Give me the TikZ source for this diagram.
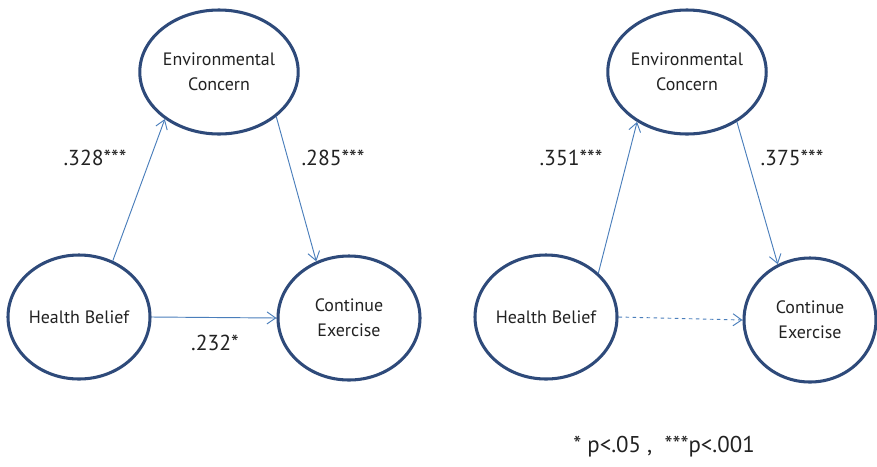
\documentclass[tikz,border=0pt]{standalone}
\usepackage{fontspec}
\setmainfont{PT Sans}
\usetikzlibrary{arrows.meta, shapes.geometric}
\definecolor{rimblue}{HTML}{2E4A7A}
\definecolor{lineblue}{HTML}{4A7EBB}
\definecolor{inkgray}{HTML}{222222}

\begin{document}
\begin{tikzpicture}[x=0.03cm, y=-0.03cm,
  latent/.style={ellipse, draw=rimblue, line width=2.6pt, fill=white, minimum width=4.26cm,
    minimum height=3.72cm, inner sep=0pt, align=center, text=inkgray,
    font=\fontsize{15.3}{21.5}\selectfont},
  effect/.style={draw=lineblue, line width=0.8pt, -{Straight Barb[length=2.6mm, width=3.6mm]}},
  nseffect/.style={effect, dashed},
  coef/.style={text=inkgray, font=\fontsize{18.5}{20}\selectfont},
  note/.style={text=inkgray, font=\fontsize{19.5}{22}\selectfont}
]
  \useasboundingbox (0,0) rectangle (877,466);
  % total model
  \node[latent] (ecL) at (219,72)  {Environmental\\Concern};
  \node[latent] (hbL) at (79,317)  {Health Belief};
  \node[latent] (ceL) at (349,318) {Continue\\Exercise};
  \draw[effect] (hbL.59)  -- (ecL.221);
  \draw[effect] (ecL.322) -- (ceL.120);
  \draw[effect] (hbL.east) -- (ceL.west);
  \node[coef] at (95,158)  {.328***};
  \node[coef] at (333,158) {.285***};
  \node[coef] at (215,343) {.232*};
  % mediated model
  \node[latent] (ecR) at (687,72)  {Environmental\\Concern};
  \node[latent] (hbR) at (546,317) {Health Belief};
  \node[latent, minimum width=3.96cm] (ceR) at (810,320) {Continue\\Exercise};
  \draw[effect]   (hbR.40)  -- (ecR.225);
  \draw[effect]   (ecR.315) -- (ceR.120);
  \draw[nseffect] (hbR.east) -- (ceR.west);
  \node[coef] at (571,158) {.351***};
  \node[coef] at (792,158) {.375***};
  \node[note] at (664,447) {* p<.05 ,\ \ ***p<.001};
\end{tikzpicture}
\end{document}
